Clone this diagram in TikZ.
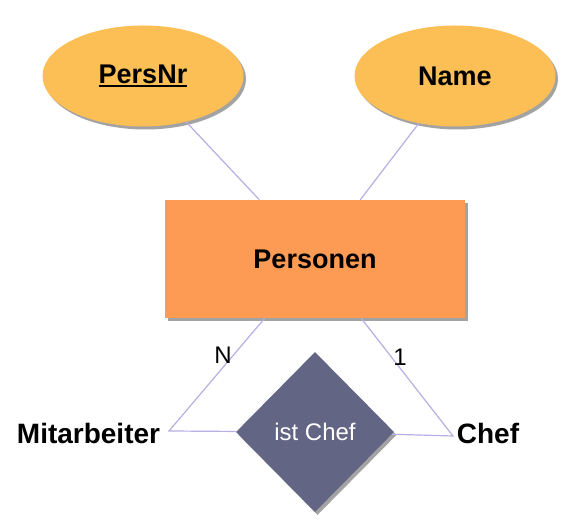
\documentclass[tikz,border=0pt]{standalone}
\usepackage{fontspec}
\setmainfont{Liberation Sans}
\usepackage{tikz}
\usetikzlibrary{shapes.geometric,shadows,positioning}
\definecolor{attrfill}{HTML}{FBBF55}
\definecolor{entityfill}{HTML}{FD9A53}
\definecolor{relfill}{HTML}{636584}
\definecolor{linkcol}{HTML}{B9AEE3}
\newcommand{\keyattr}[1]{\setbox0\hbox{#1}\rlap{\rule[-3.5pt]{\wd0}{1.8pt}}\box0}

\begin{document}
\begin{tikzpicture}[x=1pt,y=-1pt,
        shade/.style={drop shadow={shadow xshift=2.5pt,shadow yshift=-3pt,opacity=0.45,fill=black!80}},
        attr/.style={ellipse,shade,fill=attrfill,minimum width=201pt,minimum height=101pt,inner sep=0pt,
            font=\fontsize{27}{30}\selectfont\bfseries},
        entity/.style={rectangle,shade,fill=entityfill,minimum width=300pt,minimum height=118pt,
            font=\fontsize{27}{30}\selectfont\bfseries},
        rel/.style={diamond,shade,fill=relfill,text=white,minimum width=158pt,minimum height=160pt,inner sep=0pt,
            font=\fontsize{24}{28}\selectfont},
        role/.style={inner sep=0pt,font=\fontsize{28}{32}\selectfont\bfseries},
        card/.style={inner sep=0pt,font=\fontsize{24}{28}\selectfont},
        link/.style={draw=linkcol,line width=1.2pt}]
    \useasboundingbox (0,0) rectangle (571,521);

    \node[attr] (persnr) at (143,76) {\keyattr{PersNr}};
    \node[attr] (name) at (455,76) {Name};
    \node[entity] (personen) at (315,259) {Personen};
    \node[rel] (istchef) at (315,432) {ist Chef};
    \node[role] (mitarbeiter) at (88.5,433.5) {Mitarbeiter};
    \node[role] (chef) at (488,433.5) {Chef};
    \coordinate (knickm) at (169,431);
    \coordinate (knickc) at (453,436);

    \draw[link] (persnr) -- (personen);
    \draw[link] (name) -- (personen);
    \draw[link] (personen) -- (knickm) -- (istchef);
    \draw[link] (personen) -- (knickc) -- (istchef);

    \node[card] (cardn) at (223,355) {N};
    \node[card] (cardone) at (400,357) {1};
\end{tikzpicture}
\end{document}
